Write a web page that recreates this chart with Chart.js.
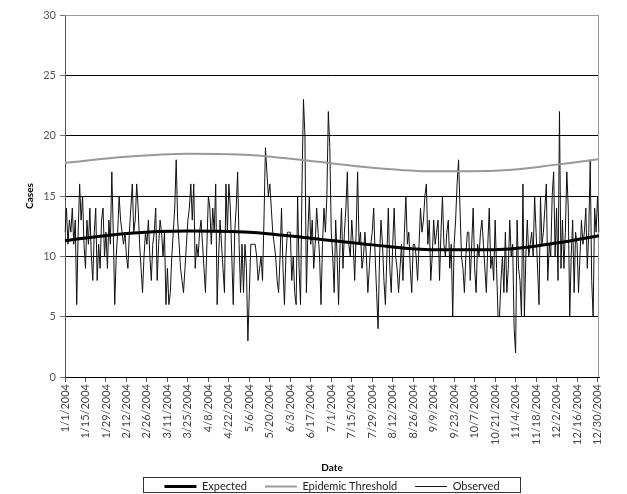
<!DOCTYPE html>
<html>
<head>
<meta charset="utf-8">
<script src="https://cdn.jsdelivr.net/npm/chart.js@4.4.0/dist/chart.umd.min.js"></script>
<style>
	html, body { margin: 0; padding: 0; background: #fff; }
</style>
</head>
<body>
<canvas id="myChart" width="627" height="494"></canvas>
<script>
	// Dates (categories), every day of 2004
	let dates = [];
	for (let d = new Date(2004, 0, 1); d.getFullYear() === 2004; d.setDate(d.getDate() + 1)) {
		dates.push((d.getMonth() + 1) + "/" + d.getDate() + "/2004");
	}

	// Observed daily cases
	let observed = [
		12, 14, 11, 13, 12, 14, 11, 13, 6, 12,
		16, 13, 15, 11, 9, 13, 11, 14, 10, 8,
		12, 14, 8, 11, 9, 13, 14, 10, 12, 9,
		13, 11, 17, 12, 6, 10, 12, 15, 13, 12,
		11, 12, 10, 9, 12, 14, 16, 12, 13, 16,
		14, 11, 9, 7, 10, 12, 11, 13, 10, 8,
		11, 12, 14, 8, 11, 13, 12, 10, 12, 6,
		9, 6, 7, 10, 12, 14, 18, 13, 11, 9,
		8, 7, 9, 11, 13, 14, 16, 13, 16, 9,
		11, 10, 12, 13, 11, 9, 7, 11, 15, 14,
		11, 14, 12, 16, 6, 10, 13, 11, 9, 7,
		16, 12, 16, 14, 10, 6, 12, 14, 17, 11,
		7, 11, 7, 11, 9, 3, 7, 11, 11, 11,
		11, 10, 8, 9, 10, 8, 13, 19, 17, 15,
		16, 14, 12, 11, 10, 8, 7, 10, 14, 9,
		6, 10, 12, 12, 12, 8, 10, 7, 6, 15,
		9, 6, 16, 23, 20, 7, 12, 15, 11, 13,
		9, 11, 14, 12, 10, 6, 11, 14, 12, 15,
		22, 19, 12, 10, 7, 13, 10, 6, 11, 14,
		9, 12, 14, 17, 11, 10, 13, 11, 8, 12,
		17, 11, 12, 9, 10, 12, 10, 7, 9, 11,
		12, 14, 10, 7, 4, 10, 13, 11, 8, 6,
		10, 14, 9, 7, 11, 14, 10, 9, 7, 9,
		11, 8, 12, 15, 11, 12, 9, 7, 11, 11,
		10, 8, 11, 14, 12, 13, 15, 16, 11, 13,
		8, 10, 13, 11, 12, 13, 8, 12, 15, 11,
		10, 12, 13, 9, 11, 5, 11, 13, 16, 18,
		14, 10, 9, 7, 10, 12, 12, 8, 11, 14,
		9, 7, 11, 10, 12, 13, 11, 9, 7, 11,
		14, 9, 10, 8, 13, 9, 5, 5, 8, 10,
		7, 12, 7, 9, 13, 10, 11, 4, 2, 13,
		9, 8, 5, 16, 5, 10, 13, 10, 11, 12,
		10, 15, 12, 9, 6, 15, 11, 12, 14, 16,
		8, 11, 10, 15, 17, 10, 14, 8, 22, 9,
		13, 9, 12, 17, 14, 5, 10, 13, 7, 12,
		11, 7, 10, 13, 11, 12, 14, 9, 12, 18,
		8, 5, 14, 12, 15, 12
	];

	// Smooth curves, read every six weeks
	let curveDates = ["1/1/2004", "2/12/2004", "3/25/2004", "5/6/2004", "6/17/2004", "7/29/2004", "9/9/2004", "10/21/2004", "12/2/2004", "12/31/2004"];
	let expected = [11.3, 11.9, 12.1, 12.0, 11.5, 10.95, 10.55, 10.55, 11.1, 11.7];
	let threshold = [17.75, 18.25, 18.5, 18.4, 17.9, 17.35, 17.05, 17.1, 17.6, 18.05];

	let yTicks = [0, 5, 10, 15, 20, 25, 30];

	let font = "Lato, 'Noto Sans', sans-serif";
	Chart.defaults.font.family = font;

	// box round the legend, gray frame top/right
	const frame = {
		id: "frame",
		beforeDatasetsDraw(chart) {
			let c = chart.ctx, a = chart.chartArea;
			c.save();
			c.strokeStyle = "#999";
			c.lineWidth = 1;
			c.beginPath();
			c.moveTo(a.left, a.top + 0.5);
			c.lineTo(a.right - 0.5, a.top + 0.5);
			c.lineTo(a.right - 0.5, a.bottom);
			c.stroke();
			c.restore();
		},
		afterDraw(chart) {
			let boxes = chart.legend.legendHitBoxes;
			if (!boxes || !boxes.length) return;
			let l = Math.min(...boxes.map(b => b.left));
			let r = Math.max(...boxes.map(b => b.left + b.width));
			let t = Math.min(...boxes.map(b => b.top));
			let c = chart.ctx;
			let top = Math.round(t - 4) + 0.5;
			let bottom = chart.height - 1.5;
			c.save();
			c.strokeStyle = "#333";
			c.lineWidth = 1;
			c.strokeRect(Math.round(l - 21) + 0.5, top, Math.round(r - l + 42), bottom - top);
			c.restore();
		}
	};

	let ctx = document.getElementById("myChart").getContext("2d");
	let chart = new Chart(ctx, {
		type: "line",
		data: {
			labels: dates,
			datasets: [{
				label: "Expected",
				data: curveDates.map((d, i) => ({ x: d, y: expected[i] })),
				borderColor: "#000",
				borderWidth: 3,
				pointRadius: 0,
				cubicInterpolationMode: "monotone"
			}, {
				label: "Epidemic Threshold",
				data: curveDates.map((d, i) => ({ x: d, y: threshold[i] })),
				borderColor: "#999",
				borderWidth: 2,
				pointRadius: 0,
				cubicInterpolationMode: "monotone"
			}, {
				label: "Observed",
				data: observed,
				borderColor: "#111",
				borderWidth: 1,
				pointRadius: 0,
				tension: 0
			}]
		},
		options: {
			responsive: false,
			animation: false,
			layout: { padding: { top: 15, left: 0, right: 28, bottom: -8 } },
			plugins: {
				tooltip: { enabled: false },
				legend: {
					position: "bottom",
					fullSize: false,
					labels: {
						usePointStyle: true,
						pointStyle: "line",
						pointStyleWidth: 32,
						boxHeight: 11,
						padding: 18,
						color: "#222",
						font: { size: 11 }
					}
				}
			},
			scales: {
				x: {
					offset: false,
					grid: { drawOnChartArea: false, tickLength: 5, color: "#555" },
					border: { color: "#000" },
					ticks: {
						autoSkip: false,
						maxRotation: 90,
						minRotation: 90,
						padding: 2,
						color: "#444",
						font: { size: 11 },
						callback: function (val, i) { return i % 14 === 0 ? this.getLabelForValue(val) : null; }
					},
					title: { display: true, text: "Date", color: "#000", font: { size: 10, weight: "bold" }, padding: { top: 0, bottom: -11 } },
					afterFit: s => { s.height = 86; }
				},
				y: {
					min: 0,
					max: 30,
					afterBuildTicks: s => { s.ticks = yTicks.map(v => ({ value: v })); },
					ticks: { padding: 4, color: "#555", font: { size: 11 } },
					grid: { color: c => c.tick.value === 30 ? "#999" : "#000", tickColor: "#777", tickLength: 5 },
					border: { color: "#555" },
					title: { display: true, text: "Cases", color: "#000", font: { size: 10, weight: "bold" }, padding: { top: 24, bottom: 0 } },
					afterFit: s => { s.width = 65; }
				}
			}
		},
		plugins: [frame]
	});
</script>
</body>
</html>
